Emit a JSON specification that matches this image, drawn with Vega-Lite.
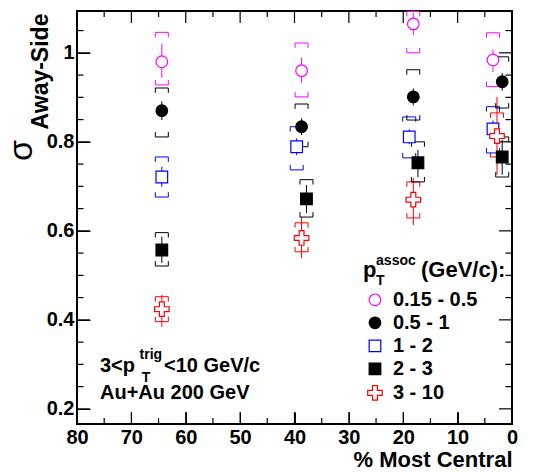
{
  "$schema": "https://vega.github.io/schema/vega-lite/v6.json",
  "width": 435,
  "height": 413,
  "autosize": "none",
  "padding": {"left": 77, "top": 11, "right": 23, "bottom": 48},
  "background": "white",
  "config": {
    "view": {"stroke": "black", "strokeWidth": 2},
    "font": "Liberation Sans",
    "axis": {"grid": false, "domain": false, "ticks": true, "tickColor": "#000000", "tickWidth": 1, "labelColor": "black", "titleColor": "black", "labelFont": "Liberation Sans", "labelFontWeight": "bold", "labelFontSize": 20, "titleFont": "Liberation Sans"}
  },
  "datasets": {
    "pts": [
      {"series": "0.15 - 0.5", "cent": 64.4, "val": 0.980, "statLo": 0.944, "statHi": 1.020, "sysLo": 0.928, "sysHi": 1.046},
      {"series": "0.5 - 1", "cent": 64.4, "val": 0.870, "statLo": 0.849, "statHi": 0.891, "sysLo": 0.811, "sysHi": 0.921},
      {"series": "1 - 2", "cent": 64.4, "val": 0.721, "statLo": 0.699, "statHi": 0.744, "sysLo": 0.676, "sysHi": 0.766},
      {"series": "2 - 3", "cent": 64.4, "val": 0.557, "statLo": 0.528, "statHi": 0.587, "sysLo": 0.521, "sysHi": 0.596},
      {"series": "3 - 10", "cent": 64.4, "val": 0.424, "statLo": 0.384, "statHi": 0.456, "sysLo": 0.396, "sysHi": 0.452},
      {"series": "0.15 - 0.5", "cent": 38.7, "val": 0.960, "statLo": 0.933, "statHi": 0.989, "sysLo": 0.901, "sysHi": 1.022},
      {"series": "0.5 - 1", "cent": 38.7, "val": 0.834, "statLo": 0.815, "statHi": 0.853, "sysLo": 0.789, "sysHi": 0.885},
      {"series": "1 - 2", "cent": 39.6, "val": 0.789, "statLo": 0.770, "statHi": 0.808, "sysLo": 0.737, "sysHi": 0.834},
      {"series": "2 - 3", "cent": 37.8, "val": 0.672, "statLo": 0.640, "statHi": 0.703, "sysLo": 0.631, "sysHi": 0.715},
      {"series": "3 - 10", "cent": 38.7, "val": 0.584, "statLo": 0.539, "statHi": 0.631, "sysLo": 0.553, "sysHi": 0.618},
      {"series": "0.15 - 0.5", "cent": 18.15, "val": 1.065, "statLo": 1.040, "statHi": 1.090, "sysLo": 1.000, "sysHi": 1.093},
      {"series": "0.5 - 1", "cent": 18.15, "val": 0.901, "statLo": 0.882, "statHi": 0.920, "sysLo": 0.849, "sysHi": 0.962},
      {"series": "1 - 2", "cent": 18.9, "val": 0.811, "statLo": 0.795, "statHi": 0.828, "sysLo": 0.764, "sysHi": 0.856},
      {"series": "2 - 3", "cent": 17.3, "val": 0.753, "statLo": 0.721, "statHi": 0.782, "sysLo": 0.710, "sysHi": 0.800},
      {"series": "3 - 10", "cent": 18.15, "val": 0.670, "statLo": 0.613, "statHi": 0.719, "sysLo": 0.629, "sysHi": 0.710},
      {"series": "0.15 - 0.5", "cent": 3.5, "val": 0.984, "statLo": 0.957, "statHi": 1.007, "sysLo": 0.924, "sysHi": 1.045},
      {"series": "0.5 - 1", "cent": 1.8, "val": 0.935, "statLo": 0.915, "statHi": 0.955, "sysLo": 0.876, "sysHi": 0.991},
      {"series": "1 - 2", "cent": 3.5, "val": 0.829, "statLo": 0.810, "statHi": 0.848, "sysLo": 0.775, "sysHi": 0.879},
      {"series": "2 - 3", "cent": 1.8, "val": 0.766, "statLo": 0.726, "statHi": 0.804, "sysLo": 0.721, "sysHi": 0.811},
      {"series": "3 - 10", "cent": 2.76, "val": 0.813, "statLo": 0.726, "statHi": 0.901, "sysLo": 0.766, "sysHi": 0.865}
    ],
    "leg": [
      {"series": "0.15 - 0.5", "lx": 25.2, "tx": 21.9, "ly": 0.445},
      {"series": "0.5 - 1", "lx": 25.2, "tx": 21.9, "ly": 0.3933},
      {"series": "1 - 2", "lx": 25.2, "tx": 21.9, "ly": 0.3416},
      {"series": "2 - 3", "lx": 25.2, "tx": 21.9, "ly": 0.2899},
      {"series": "3 - 10", "lx": 25.2, "tx": 21.9, "ly": 0.236}
    ],
    "xMarks": [
      {"at": 10, "from": 0.166, "to": 0.193}, {"at": 20, "from": 0.166, "to": 0.193}, {"at": 30, "from": 0.166, "to": 0.193}, {"at": 40, "from": 0.166, "to": 0.193},
      {"at": 50, "from": 0.166, "to": 0.193}, {"at": 60, "from": 0.166, "to": 0.193}, {"at": 70, "from": 0.166, "to": 0.193},
      {"at": 5, "from": 0.166, "to": 0.1795}, {"at": 15, "from": 0.166, "to": 0.1795}, {"at": 25, "from": 0.166, "to": 0.1795}, {"at": 35, "from": 0.166, "to": 0.1795},
      {"at": 45, "from": 0.166, "to": 0.1795}, {"at": 55, "from": 0.166, "to": 0.1795}, {"at": 65, "from": 0.166, "to": 0.1795}, {"at": 75, "from": 0.166, "to": 0.1795},
      {"at": 10, "from": 1.067, "to": 1.094}, {"at": 20, "from": 1.067, "to": 1.094}, {"at": 30, "from": 1.067, "to": 1.094}, {"at": 40, "from": 1.067, "to": 1.094},
      {"at": 50, "from": 1.067, "to": 1.094}, {"at": 60, "from": 1.067, "to": 1.094}, {"at": 70, "from": 1.067, "to": 1.094},
      {"at": 5, "from": 1.0805, "to": 1.094}, {"at": 15, "from": 1.0805, "to": 1.094}, {"at": 25, "from": 1.0805, "to": 1.094}, {"at": 35, "from": 1.0805, "to": 1.094},
      {"at": 45, "from": 1.0805, "to": 1.094}, {"at": 55, "from": 1.0805, "to": 1.094}, {"at": 65, "from": 1.0805, "to": 1.094}, {"at": 75, "from": 1.0805, "to": 1.094}
    ],
    "yMarks": [
      {"at": 0.2, "from": 77.6, "to": 80}, {"at": 0.4, "from": 77.6, "to": 80}, {"at": 0.6, "from": 77.6, "to": 80}, {"at": 0.8, "from": 77.6, "to": 80}, {"at": 1.0, "from": 77.6, "to": 80},
      {"at": 0.2, "from": 0, "to": 2.4}, {"at": 0.4, "from": 0, "to": 2.4}, {"at": 0.6, "from": 0, "to": 2.4}, {"at": 0.8, "from": 0, "to": 2.4}, {"at": 1.0, "from": 0, "to": 2.4},
      {"at": 0.25, "from": 78.8, "to": 80}, {"at": 0.3, "from": 78.8, "to": 80}, {"at": 0.35, "from": 78.8, "to": 80}, {"at": 0.45, "from": 78.8, "to": 80}, {"at": 0.5, "from": 78.8, "to": 80},
      {"at": 0.55, "from": 78.8, "to": 80}, {"at": 0.65, "from": 78.8, "to": 80}, {"at": 0.7, "from": 78.8, "to": 80}, {"at": 0.75, "from": 78.8, "to": 80}, {"at": 0.85, "from": 78.8, "to": 80},
      {"at": 0.9, "from": 78.8, "to": 80}, {"at": 0.95, "from": 78.8, "to": 80}, {"at": 1.05, "from": 78.8, "to": 80},
      {"at": 0.25, "from": 0, "to": 1.2}, {"at": 0.3, "from": 0, "to": 1.2}, {"at": 0.35, "from": 0, "to": 1.2}, {"at": 0.45, "from": 0, "to": 1.2}, {"at": 0.5, "from": 0, "to": 1.2},
      {"at": 0.55, "from": 0, "to": 1.2}, {"at": 0.65, "from": 0, "to": 1.2}, {"at": 0.7, "from": 0, "to": 1.2}, {"at": 0.75, "from": 0, "to": 1.2}, {"at": 0.85, "from": 0, "to": 1.2},
      {"at": 0.9, "from": 0, "to": 1.2}, {"at": 0.95, "from": 0, "to": 1.2}, {"at": 1.05, "from": 0, "to": 1.2}
    ],
    "txtBig": [
      {"x": 75.77, "y": 0.2966, "t": "3<p"},
      {"x": 64.0, "y": 0.2966, "t": "<10 GeV/c"},
      {"x": 75.77, "y": 0.236, "t": "Au+Au 200 GeV"}
    ],
    "txtLegT": [
      {"x": 27.4, "y": 0.5124, "t": "p"},
      {"x": 16.74, "y": 0.5124, "t": "(GeV/c):"}
    ],
    "txtSmall": [
      {"x": 68.1, "y": 0.269, "t": "T"},
      {"x": 68.5, "y": 0.321, "t": "trig"},
      {"x": 25.0, "y": 0.4876, "t": "T"},
      {"x": 25.0, "y": 0.533, "t": "assoc"}
    ]
  },
  "resolve": {"axis": {"x": "independent", "y": "independent"}},
  "layer": [
    {
      "data": {"name": "pts"},
      "mark": {"type": "rule", "strokeWidth": 1},
      "encoding": {
        "x": {"field": "cent", "type": "quantitative", "scale": {"domain": [0, 80], "reverse": true, "nice": false, "zero": false}, "axis": null},
        "y": {"field": "statLo", "type": "quantitative", "scale": {"domain": [0.166, 1.094], "nice": false, "zero": false},
              "axis": {"orient": "left", "values": [0.5], "ticks": false, "labels": false,
                       "title": "Away-Side", "titleFontSize": 23, "titleFontWeight": "bold", "titleX": -37, "titleY": 60, "titleAngle": 270, "titleAlign": "center", "titleBaseline": "middle"}},
        "y2": {"field": "statHi"},
        "color": {"field": "series", "type": "nominal", "scale": {"domain": ["0.15 - 0.5", "0.5 - 1", "1 - 2", "2 - 3", "3 - 10"], "range": ["#ff00ff", "black", "#0000ff", "black", "#ff0000"]}, "legend": null}
      }
    },
    {
      "data": {"name": "xMarks"},
      "mark": {"type": "rule", "strokeWidth": 1.2},
      "encoding": {
        "x": {"field": "at", "type": "quantitative", "axis": null},
        "y": {"field": "from", "type": "quantitative", "axis": null},
        "y2": {"field": "to"},
        "color": {"value": "#000000"}
      }
    },
    {
      "data": {"name": "yMarks"},
      "mark": {"type": "rule", "strokeWidth": 1.2},
      "encoding": {
        "y": {"field": "at", "type": "quantitative", "axis": null},
        "x": {"field": "from", "type": "quantitative", "axis": null},
        "x2": {"field": "to"},
        "color": {"value": "#000000"}
      }
    },
    {
      "data": {"name": "pts"},
      "mark": {"type": "point", "shape": "M-1,0.75L-1,0L1,0L1,0.75", "size": 169, "filled": false, "strokeWidth": 1, "opacity": 1},
      "encoding": {
        "x": {"field": "cent", "type": "quantitative", "axis": null},
        "y": {"field": "sysHi", "type": "quantitative", "axis": null},
        "color": {"field": "series", "type": "nominal", "legend": null}
      }
    },
    {
      "data": {"name": "pts"},
      "mark": {"type": "point", "shape": "M-1,-0.75L-1,0L1,0L1,-0.75", "size": 169, "filled": false, "strokeWidth": 1, "opacity": 1},
      "encoding": {
        "x": {"field": "cent", "type": "quantitative", "axis": null},
        "y": {"field": "sysLo", "type": "quantitative", "axis": null},
        "color": {"field": "series", "type": "nominal", "legend": null}
      }
    },
    {
      "data": {"name": "pts"},
      "mark": {"type": "point", "size": 135, "filled": true, "strokeWidth": 1.2, "opacity": 1},
      "encoding": {
        "x": {"field": "cent", "type": "quantitative",
              "axis": {"orient": "bottom", "values": [0, 10, 20, 30, 40, 50, 60, 70, 80], "offset": -12, "tickSize": 12, "labelPadding": 3, "labelFlush": false,
                       "title": "% Most Central", "titleFontSize": 22, "titleFontWeight": "bold", "titleAnchor": "end", "titleAlign": "right", "titleX": 435, "titleY": 47, "titleBaseline": "middle"}},
        "y": {"field": "val", "type": "quantitative",
              "axis": {"orient": "left", "values": [0.2, 0.4, 0.6, 0.8, 1.0], "offset": -13, "tickSize": 13, "labelPadding": 3, "labelFlush": false,
                       "labelExpr": "datum.value == 1 ? '1' : format(datum.value, '.1f')",
                       "title": "σ", "titleFontSize": 34, "titleFontWeight": "normal", "titleX": -69, "titleY": 139, "titleAngle": 270, "titleAlign": "center", "titleBaseline": "middle"}},
        "shape": {"field": "series", "type": "nominal",
                  "scale": {"domain": ["0.15 - 0.5", "0.5 - 1", "1 - 2", "2 - 3", "3 - 10"], "range": ["circle", "circle", "square", "square", "M-0.42,-1.25L0.42,-1.25L0.42,-0.42L1.25,-0.42L1.25,0.42L0.42,0.42L0.42,1.25L-0.42,1.25L-0.42,0.42L-1.25,0.42L-1.25,-0.42L-0.42,-0.42Z"]},
                  "legend": null},
        "fill": {"field": "series", "type": "nominal",
                 "scale": {"domain": ["0.15 - 0.5", "0.5 - 1", "1 - 2", "2 - 3", "3 - 10"], "range": ["white", "black", "white", "black", "white"]},
                 "legend": null},
        "stroke": {"field": "series", "type": "nominal",
                   "scale": {"domain": ["0.15 - 0.5", "0.5 - 1", "1 - 2", "2 - 3", "3 - 10"], "range": ["#ff00ff", "black", "#0000ff", "black", "#ff0000"]},
                   "legend": null}
      }
    },
    {
      "data": {"name": "leg"},
      "mark": {"type": "point", "size": 135, "filled": true, "strokeWidth": 1.2, "opacity": 1},
      "encoding": {
        "x": {"field": "lx", "type": "quantitative", "axis": null},
        "y": {"field": "ly", "type": "quantitative", "axis": null},
        "shape": {"field": "series", "type": "nominal", "legend": null},
        "fill": {"field": "series", "type": "nominal", "legend": null},
        "stroke": {"field": "series", "type": "nominal", "legend": null}
      }
    },
    {
      "data": {"name": "leg"},
      "mark": {"type": "text", "font": "Liberation Sans", "fontWeight": "bold", "fontSize": 20, "align": "left", "baseline": "middle", "color": "black"},
      "encoding": {
        "x": {"field": "tx", "type": "quantitative", "axis": null},
        "y": {"field": "ly", "type": "quantitative", "axis": null},
        "text": {"field": "series"}
      }
    },
    {
      "data": {"name": "txtBig"},
      "mark": {"type": "text", "font": "Liberation Sans", "fontWeight": "bold", "fontSize": 20, "align": "left", "baseline": "middle", "color": "black"},
      "encoding": {
        "x": {"field": "x", "type": "quantitative", "axis": null},
        "y": {"field": "y", "type": "quantitative", "axis": null},
        "text": {"field": "t"}
      }
    },
    {
      "data": {"name": "txtLegT"},
      "mark": {"type": "text", "font": "Liberation Sans", "fontWeight": "bold", "fontSize": 22, "align": "left", "baseline": "middle", "color": "black"},
      "encoding": {
        "x": {"field": "x", "type": "quantitative", "axis": null},
        "y": {"field": "y", "type": "quantitative", "axis": null},
        "text": {"field": "t"}
      }
    },
    {
      "data": {"name": "txtSmall"},
      "mark": {"type": "text", "font": "Liberation Sans", "fontWeight": "bold", "fontSize": 14, "align": "left", "baseline": "middle", "color": "black"},
      "encoding": {
        "x": {"field": "x", "type": "quantitative", "axis": null},
        "y": {"field": "y", "type": "quantitative", "axis": null},
        "text": {"field": "t"}
      }
    }
  ]
}
